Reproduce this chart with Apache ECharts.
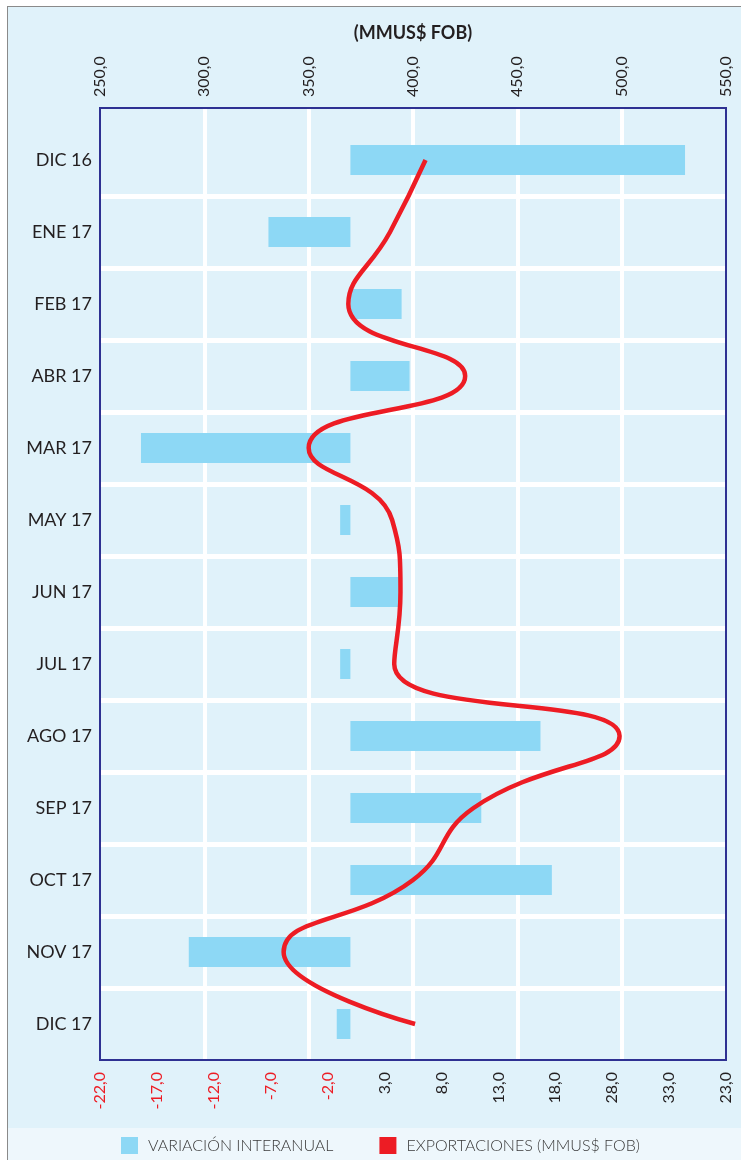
<!DOCTYPE html>
<html>
<head>
<meta charset="utf-8">
<script src="https://cdn.jsdelivr.net/npm/echarts@6/dist/echarts.min.js"></script>
<style>
  html, body { margin: 0; padding: 0; background: #ffffff; }
  #bg { position: absolute; left: 7px; top: 6px; width: 733px; height: 1153px; background: #E0F2FA; border-left: 1px solid #8a8a8a; border-top: 1px solid #8a8a8a; }
  #strip { position: absolute; left: 8px; top: 1128px; width: 733px; height: 32px; background: #EEF7FC; }
  #chart { position: absolute; left: 0; top: 0; width: 741px; height: 1160px; }
</style>
</head>
<body>
<div id="bg"></div>
<div id="strip"></div>
<div id="chart"></div>
<script>
// ---- data ----
const categories = ['DIC 16', 'ENE 17', 'FEB 17', 'ABR 17', 'MAR 17', 'MAY 17', 'JUN 17', 'JUL 17', 'AGO 17', 'SEP 17', 'OCT 17', 'NOV 17', 'DIC 17'];
const variacionInteranual = [29.4, -7.2, 4.5, 5.2, -18.4, -0.9, 4.3, -0.9, 16.7, 11.5, 17.7, -14.2, -1.2];
const exportaciones = [406, 389, 369, 425, 350, 390, 394, 391, 499, 429, 400, 338, 401];
const bottomTickValues = [-22, -17, -12, -7, -2, 3, 8, 13, 18, 23, 28, 33];
const bottomTickLabels = ['-22,0', '-17,0', '-12,0', '-7,0', '-2,0', '3,0', '8,0', '13,0', '18,0', '28,0', '33,0', '23,0'];
const topTickLabels = ['250,0', '300,0', '350,0', '400,0', '450,0', '500,0', '550,0'];
const seriesNames = ['VARIACIÓN INTERANUAL', 'EXPORTACIONES (MMUS$ FOB)'];
const axisTitle = '(MMUS$ FOB)';

// ---- styles ----
const FONT = 'Lato';
const NAVY = '#2E3192';
const RED = '#ED1C24';
const BLUE = '#8DD8F5';
const TEXT = '#231F20';

const chart = echarts.init(document.getElementById('chart'), null, { renderer: 'canvas' });

chart.setOption({
  backgroundColor: 'transparent',
  animation: false,
  textStyle: { fontFamily: FONT },
  legend: {
    left: 116,
    top: 1132,
    itemWidth: 17,
    itemHeight: 17,
    itemGap: 46,
    icon: 'rect',
    textStyle: { fontFamily: FONT, fontSize: 16, fontWeight: 300, color: '#3a3a3a', padding: [0, 0, 0, 5] },
    data: [
      { name: seriesNames[0], itemStyle: { color: BLUE } },
      { name: seriesNames[1], itemStyle: { color: RED } }
    ]
  },
  grid: [
    { left: 100, right: 15, top: 124, bottom: 100, containLabel: false },
    { left: 100, right: 15, top: 108, bottom: 100, show: true, z: 5, backgroundColor: 'transparent', borderColor: NAVY, borderWidth: 2 }
  ],
  xAxis: [
    {
      gridIndex: 1, type: 'value', position: 'top', min: 250, max: 550, interval: 50,
      name: axisTitle, nameLocation: 'middle', nameGap: 66,
      nameTextStyle: { fontFamily: FONT, fontSize: 18, fontWeight: 'bold', color: TEXT },
      axisLine: { show: false }, axisTick: { show: false },
      axisLabel: { rotate: 90, margin: 11, fontFamily: FONT, fontSize: 16, color: TEXT,
        formatter: (v) => topTickLabels[Math.round((v - 250) / 50)] },
      splitLine: { show: true, showMinLine: false, showMaxLine: false, lineStyle: { color: '#ffffff', width: 4 } }
    },
    {
      gridIndex: 1, type: 'value', position: 'bottom', min: -22, max: 33,
      axisLine: { show: false }, axisTick: { show: false, customValues: bottomTickValues },
      axisLabel: { rotate: 90, margin: 12, fontFamily: FONT, fontSize: 16, color: TEXT,
        customValues: bottomTickValues,
        formatter: (v) => {
          const t = bottomTickLabels[bottomTickValues.indexOf(Math.round(v))] || '';
          return t.charAt(0) === '-' ? '{neg|' + t + '}' : '{pos|' + t + '}';
        },
        rich: {
          neg: { color: RED, fontFamily: FONT, fontSize: 16 },
          pos: { color: TEXT, fontFamily: FONT, fontSize: 16 }
        }
      },
      splitLine: { show: false }
    },
    { gridIndex: 0, type: 'value', min: -22, max: 33, show: false },
    { gridIndex: 0, type: 'value', min: 250, max: 550, show: false }
  ],
  yAxis: [
    {
      gridIndex: 0, type: 'category', data: categories, inverse: true,
      axisLine: { show: false }, axisTick: { show: false },
      axisLabel: { margin: 8, fontFamily: FONT, fontSize: 18, color: TEXT },
      splitLine: { show: true, showMinLine: false, showMaxLine: false, lineStyle: { color: '#ffffff', width: 5 } }
    },
    { gridIndex: 1, type: 'value', show: false }
  ],
  series: [
    {
      name: seriesNames[0], type: 'bar', xAxisIndex: 2, yAxisIndex: 0,
      data: variacionInteranual, barWidth: 30,
      itemStyle: { color: BLUE }, z: 2
    },
    {
      name: seriesNames[1], type: 'line', xAxisIndex: 3, yAxisIndex: 0,
      data: exportaciones, smooth: 0.5, symbol: 'none',
      lineStyle: { color: RED, width: 4.5 }, itemStyle: { color: RED }, z: 3
    }
  ]
});
</script>
</body>
</html>
